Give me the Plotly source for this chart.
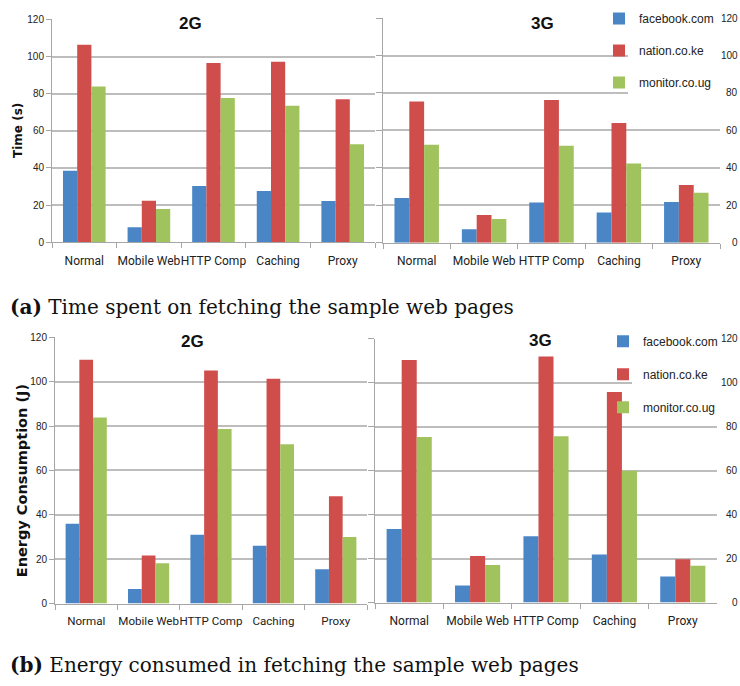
import plotly.graph_objects as go

W, H = 740, 686

categories = ["Normal", "Mobile Web", "HTTP Comp", "Caching", "Proxy"]
sites = ["facebook.com", "nation.co.ke", "monitor.co.ug"]
colors = ["#4A86C6", "#CF4E4B", "#A0C35E"]

# Time (s) to fetch each page
time_2g = {
    "facebook.com": [38.5, 8.0, 30.2, 27.6, 22.1],
    "nation.co.ke": [106.4, 22.3, 96.6, 97.2, 77.0],
    "monitor.co.ug": [83.9, 17.8, 77.7, 73.5, 52.7],
}
time_3g = {
    "facebook.com": [23.9, 7.3, 21.5, 16.2, 21.8],
    "nation.co.ke": [75.4, 14.8, 76.3, 64.0, 30.9],
    "monitor.co.ug": [52.4, 12.7, 51.8, 42.4, 26.7],
}
# Energy (J) consumed while fetching each page
energy_2g = {
    "facebook.com": [36.0, 6.6, 31.0, 26.0, 15.5],
    "nation.co.ke": [109.9, 21.7, 105.0, 101.3, 48.3],
    "monitor.co.ug": [83.9, 18.2, 78.7, 71.8, 30.0],
}
energy_3g = {
    "facebook.com": [33.4, 7.7, 30.1, 21.9, 11.8],
    "nation.co.ke": [110.3, 21.2, 111.8, 95.7, 19.7],
    "monitor.co.ug": [75.3, 17.1, 75.6, 59.9, 16.7],
}
y_ticks = [0, 20, 40, 60, 80, 100, 120]

SANS = "Liberation Sans, Arial, sans-serif"
LABEL = "Roboto, Liberation Sans, sans-serif"
SERIF = "DejaVu Serif, Liberation Serif, serif"
GRID = "#BDBDBD"
AXIS = "#A6A6A6"


def px_x(p):
    return p / W


def px_y(p):
    return (H - p) / H


# panel boxes in pixels: (left, right, top, bottom)
panels = [
    ("x", "y", time_2g, (52, 375, 14.7, 241.0), None),
    ("x2", "y2", time_3g, (383, 720, 13.3, 241.7), "legend"),
    ("x3", "y3", energy_2g, (55, 367, 337.7, 608.3), None),
    ("x4", "y4", energy_3g, (375, 717, 339.0, 607.3), "legend2"),
]

fig = go.Figure()
for xa, ya, data, box, leg in panels:
    for site, col in zip(sites, colors):
        tr = dict(
            x=categories, y=data[site], name=site, xaxis=xa, yaxis=ya,
            marker=dict(color=col, line=dict(width=0)),
            showlegend=leg is not None, legendgroup=f"{leg}-{site}",
        )
        if leg is not None:
            tr["legend"] = leg
        fig.add_trace(go.Bar(**tr))

layout = dict(
    width=W, height=H, margin=dict(l=0, r=0, t=0, b=0),
    paper_bgcolor="white", plot_bgcolor="white",
    barmode="group", bargap=0.34, bargroupgap=0.0,
    font=dict(family=SANS, color="#222222"),
)

for i, (xa, ya, data, box, leg) in enumerate(panels):
    l, r, t, b = box
    xkey = "xaxis" if xa == "x" else "xaxis" + xa[1:]
    ykey = "yaxis" if ya == "y" else "yaxis" + ya[1:]
    layout[xkey] = dict(
        domain=[px_x(l), px_x(r)], anchor=ya, type="category",
        showline=True, linecolor=AXIS, linewidth=1,
        ticks="outside", tickson="boundaries", ticklen=5, tickcolor=AXIS,
        tickfont=dict(family=LABEL, size=12 if i != 2 else 11.6, color="#222222"),
        showgrid=False, tickangle=0, ticklabelstandoff=7,
    )
    show_labels = i in (0, 2)
    layout[ykey] = dict(
        domain=[px_y(b), px_y(t)], anchor=xa, range=[0, 120],
        tickvals=y_ticks, showticklabels=show_labels,
        tickfont=dict(family=SANS, size=10, color="#222222"),
        showgrid=True, gridcolor=GRID, gridwidth=1.5,
        showline=True, linecolor=AXIS, linewidth=1,
        ticks="outside", ticklen=6 if not show_labels else 5, tickcolor=AXIS,
        zeroline=False, fixedrange=True,
    )

legend_common = dict(
    bgcolor="rgba(0,0,0,0)", borderwidth=0, xanchor="left", yanchor="top",
    font=dict(family=SANS, size=12, color="#222222"),
    traceorder="grouped", tracegroupgap=13, itemwidth=30,
)
layout["legend"] = dict(legend_common, x=px_x(599), y=px_y(-1))
layout["legend2"] = dict(legend_common, x=px_x(603), y=px_y(327), tracegroupgap=14)

fig.update_layout(**layout)

# scale numbers running down the right edge of the 3G panels
for yref in ("y2", "y4"):
    for v in y_ticks:
        fig.add_annotation(text=str(v), x=px_x(740), y=v, xref="paper", yref=yref,
                           showarrow=False, xanchor="right", yanchor="middle",
                           font=dict(family=SANS, size=10, color="#222222"))

# white patches behind the legends so gridlines stop short of them
for (x0, x1, y0, y1) in [(628, 721, 2, 92), (632, 718, 328, 418)]:
    fig.add_shape(type="rect", xref="paper", yref="paper",
                  x0=px_x(x0), x1=px_x(x1), y0=px_y(y1), y1=px_y(y0),
                  fillcolor="white", line=dict(width=0), layer="above")

# panel titles
for txt, cx, cy in [("2G", 191, 18.5), ("3G", 542, 19), ("2G", 192, 341.5), ("3G", 540, 340.5)]:
    fig.add_annotation(text=f"<b>{txt}</b>", x=px_x(cx), y=px_y(cy), xref="paper",
                       yref="paper", showarrow=False, bgcolor="white",
                       font=dict(family=SANS, size=17, color="#111111"),
                       xanchor="center", yanchor="middle", borderpad=0)

# vertical axis titles
fig.add_annotation(text="<b>Time (s)</b>", x=px_x(18), y=px_y(128), xref="paper",
                   yref="paper", showarrow=False, textangle=-90,
                   xanchor="center", yanchor="middle",
                   font=dict(family="DejaVu Sans, sans-serif", size=12, color="#111111"))
fig.add_annotation(text="<b>Energy Consumption (J)</b>", x=px_x(22), y=px_y(484),
                   xref="paper", yref="paper", showarrow=False, textangle=-90,
                   xanchor="center", yanchor="middle",
                   font=dict(family="DejaVu Sans, sans-serif", size=14.5, color="#111111"))

# sub-figure captions
fig.add_annotation(text="<b>(a)</b> Time spent on fetching the sample web pages",
                   x=px_x(8), y=px_y(307), xref="paper", yref="paper", showarrow=False,
                   xanchor="left", yanchor="middle",
                   font=dict(family=SERIF, size=20, color="#111111"))
fig.add_annotation(text="<b>(b)</b> Energy consumed in fetching the sample web pages",
                   x=px_x(8), y=px_y(671), xref="paper", yref="paper", showarrow=False,
                   xanchor="left", yanchor="middle",
                   font=dict(family=SERIF, size=20, color="#111111"))

fig.write_html("out.html")
